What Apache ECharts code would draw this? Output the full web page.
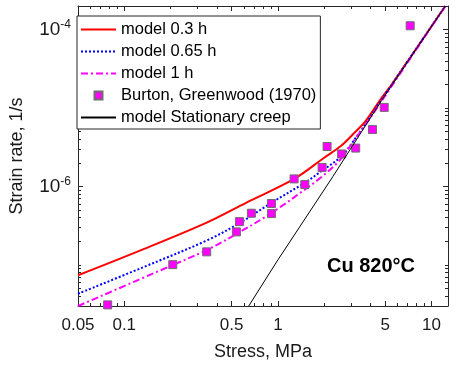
<!DOCTYPE html>
<html>
<head>
<meta charset="utf-8">
<script src="https://cdn.jsdelivr.net/npm/echarts@6/dist/echarts.min.js"></script>
<style>html,body{margin:0;padding:0;background:#fff;}#c{width:465px;height:366px;}</style>
</head>
<body>
<div id="c"></div>
<script>
// ---- data ----
const model03 = [[0.05,7.4e-8],[0.13,1.56e-7],[0.344,3.47e-7],[0.62,6.2e-7],[1.275,1.25e-6],[2.0,2.33e-6],[2.58,3.3e-6],[3.2,5.0e-6],[3.71,6.75e-6],[4.73,1.35e-5],[5.5,2.0e-5],[12.3,2.0e-4]];
const model065 = [[0.05,4.3e-8],[0.13,9.2e-8],[0.344,2.05e-7],[0.56,3.4e-7],[0.908,6.2e-7],[1.5,1.12e-6],[1.9,1.55e-6],[2.6,2.45e-6],[3.3,4.5e-6],[3.9,7.2e-6],[4.6,1.18e-5],[12.3,2.0e-4]];
const model1 = [[0.05,3.0e-8],[0.207,1.0e-7],[0.344,1.55e-7],[0.54,2.5e-7],[0.908,4.6e-7],[1.55,9.6e-7],[1.9,1.3e-6],[2.52,2.15e-6],[3.2,4.1e-6],[3.9,7.0e-6],[12.3,2.0e-4]];
const burton = [[0.078,3.1e-8],[0.207,1.01e-7],[0.344,1.47e-7],[0.537,2.64e-7],[0.562,3.57e-7],[0.672,4.57e-7],[0.908,6.07e-7],[0.908,4.52e-7],[1.275,1.25e-6],[1.497,1.06e-6],[1.94,1.75e-6],[2.09,3.24e-6],[2.6,2.6e-6],[3.21,3.09e-6],[4.13,5.34e-6],[4.92,1.02e-5],[7.26,1.12e-4]];
const stationary = [[0.646,3.0e-8],[1.0,1.16e-7],[2.28,1.34e-6],[4.73,1.25e-5],[12.3,2.0e-4]];
const seriesNames = ['model 0.3 h','model 0.65 h','model 1 h','Burton, Greenwood (1970)','model Stationary creep'];
const xMajor = [0.05,0.1,0.5,1,5,10];
const xTickLabels = ['0.05','0.1','0.5','1','5','10'];
const xMinor = [0.06,0.07,0.08,0.09,0.2,0.3,0.4,0.6,0.7,0.8,0.9,2,3,4,6,7,8,9];
const yMajor = [1e-6,1e-4];
const yTickExponents = ['-6','-4'];
const yMinor = [4e-8,5e-8,6e-8,7e-8,8e-8,9e-8,1e-7,2e-7,3e-7,4e-7,5e-7,6e-7,7e-7,8e-7,9e-7,2e-6,3e-6,4e-6,5e-6,6e-6,7e-6,8e-6,9e-6,1e-5,2e-5,3e-5,4e-5,5e-5,6e-5,7e-5,8e-5,9e-5];
const X_MIN = 0.05, X_MAX = 12.8, Y_MIN = 3e-8, Y_MAX = 2e-4;

const FONT = "'Liberation Sans', Arial, Helvetica, sans-serif";
const AX = '#262626';

function near(arr, v){ let bi=0, bd=Infinity; arr.forEach((a,i)=>{const d=Math.abs(Math.log10(a)-Math.log10(v)); if(d<bd){bd=d;bi=i;}}); return bi; }

function xAx(pos, major){
  return {
    type:'log', logBase:10, min:X_MIN, max:X_MAX, position:pos,
    axisLine:{show:major, onZero:false, lineStyle:{color:AX, width:1}},
    axisTick:{show:true, inside:true, length: major?5:3, customValues: major?xMajor:xMinor, lineStyle:{color:AX, width:1}},
    axisLabel:{show: major && pos==='bottom', customValues:xMajor, margin:11, fontSize:17, color:'#1a1a1a', fontFamily:FONT,
      formatter:(v)=>xTickLabels[near(xMajor,v)]},
    splitLine:{show:false}, minorTick:{show:false}, minorSplitLine:{show:false},
    name: (major && pos==='bottom') ? 'Stress, MPa' : '', nameLocation:'middle', nameGap:37,
    nameTextStyle:{fontSize:18, color:'#1a1a1a', fontFamily:FONT}
  };
}
function yAx(pos, major){
  return {
    type:'log', logBase:10, min:Y_MIN, max:Y_MAX, position:pos,
    axisLine:{show:major, onZero:false, lineStyle:{color:AX, width:1}},
    axisTick:{show:true, inside:true, length: major?5:3, customValues: major?yMajor:yMinor, lineStyle:{color:AX, width:1}},
    axisLabel:{show: major && pos==='left', customValues:yMajor, margin:7, color:'#1a1a1a', fontFamily:FONT,
      formatter:(v)=>'{b|10}{s|'+yTickExponents[near(yMajor,v)]+'}',
      rich:{b:{fontSize:19, fontFamily:FONT, color:'#1a1a1a'}, s:{fontSize:12, fontFamily:FONT, color:'#1a1a1a', padding:[0,0,10,0]}}},
    splitLine:{show:false}, minorTick:{show:false}, minorSplitLine:{show:false},
    name: (major && pos==='left') ? 'Strain rate, 1/s' : '', nameLocation:'middle', nameGap:52,
    nameTextStyle:{fontSize:18, color:'#1a1a1a', fontFamily:FONT}
  };
}

const hidden = {color:'rgba(0,0,0,0)', borderWidth:0, opacity:0};
const chart = echarts.init(document.getElementById('c'), null, {renderer:'canvas'});
chart.setOption({
  animation:false,
  backgroundColor:'#fff',
  grid:{left:68, right:17, top:6, bottom:60, containLabel:false},
  xAxis:[xAx('bottom',true), xAx('bottom',false), xAx('top',true), xAx('top',false)],
  yAxis:[yAx('left',true), yAx('left',false), yAx('right',true), yAx('right',false)],
  legend:{
    show:true, orient:'vertical', left:77, top:16, padding:[5,4,3,3], itemGap:5,
    itemWidth:35, itemHeight:8, borderColor:AX, borderWidth:1, borderRadius:0, backgroundColor:'#fff',
    symbolKeepAspect:true,
    textStyle:{fontSize:16.5, color:'#000', fontFamily:FONT},
    data:[
      {name:seriesNames[0], itemStyle:hidden},
      {name:seriesNames[1], itemStyle:hidden},
      {name:seriesNames[2], itemStyle:hidden},
      {name:seriesNames[3], icon:'path://M0 0H10V10H0Z'},
      {name:seriesNames[4], itemStyle:hidden}
    ]
  },
  graphic:[{type:'text', left:327, top:256, style:{text:'Cu 820°C', font:"bold 20px 'Liberation Sans', Arial, sans-serif", fill:'#000'}}],
  series:[
    {name:seriesNames[0], type:'line', data:model03, symbol:'none', showSymbol:false, smooth:0.35, lineStyle:{color:'#FF0000', width:2}, itemStyle:{color:'#FF0000'}, z:2},
    {name:seriesNames[1], type:'line', data:model065, symbol:'none', showSymbol:false, smooth:0.35, lineStyle:{color:'#0000FF', width:2, type:[2,2]}, itemStyle:{color:'#0000FF'}, z:3},
    {name:seriesNames[2], type:'line', data:model1, symbol:'none', showSymbol:false, smooth:0.35, lineStyle:{color:'#FF00FF', width:2, type:[7,3,2,3]}, itemStyle:{color:'#FF00FF'}, z:4},
    {name:seriesNames[3], type:'scatter', data:burton, symbol:'rect', symbolSize:8, itemStyle:{color:'#FF00FF', borderColor:'#6e6e6e', borderWidth:1, opacity:1}, z:5},
    {name:seriesNames[4], type:'line', data:stationary, symbol:'none', showSymbol:false, lineStyle:{color:'#000', width:1}, itemStyle:{color:'#000'}, z:6}
  ]
});
</script>
</body>
</html>
